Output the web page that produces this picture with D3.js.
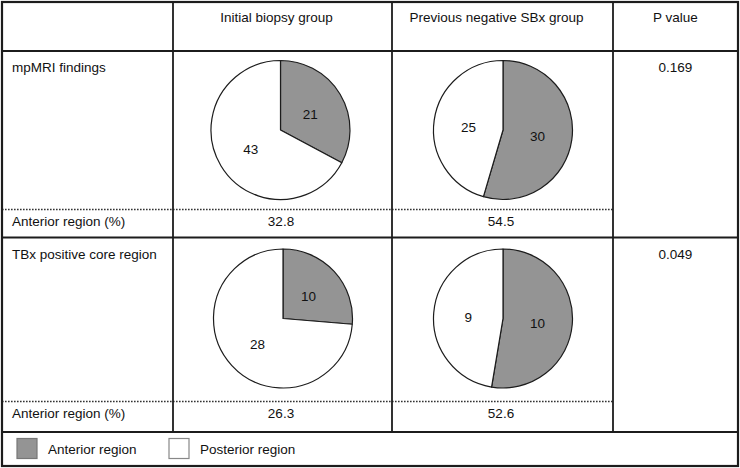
<!DOCTYPE html>
<html><head><meta charset="utf-8">
<script src="https://cdn.jsdelivr.net/npm/d3@7"></script>
<style>body{margin:0;background:#fff}svg{display:block}text{font-family:"Liberation Sans",Arial,sans-serif;font-size:13.5px;fill:#111}</style>
</head><body><svg id="c" width="740" height="468"></svg>
<script>
const groups = ["Initial biopsy group", "Previous negative SBx group"];
const headerLast = "P value";
const rowLabels = ["mpMRI findings", "TBx positive core region"];
const anteriorCounts = [[21, 30], [10, 10]];
const posteriorCounts = [[43, 25], [28, 9]];
const anteriorPct = [["32.8", "54.5"], ["26.3", "52.6"]];
const pValues = ["0.169", "0.049"];
const pctLabel = "Anterior region (%)";
const legendLabels = ["Anterior region", "Posterior region"];
const legendColors = ["#949494", "#ffffff"];

const svg = d3.select("#c");
const L = 2, R = 738, T = 2, B = 466;
const colX = [L, 173, 392, 613, R];
const headerB = 51;
const rowTop = [51, 237.5];
const dotY = [209.5, 401.5];
const rowBot = [237.5, 432];
const lineCol = "#1c1c1c";

// background
svg.append("rect").attr("x", 0).attr("y", 0).attr("width", 740).attr("height", 468).attr("fill", "#fff");

// header texts
const colCenter = i => (colX[i] + colX[i + 1]) / 2;
svg.append("text").attr("x", colCenter(1) - 6).attr("y", 22).attr("text-anchor", "middle").text(groups[0]);
svg.append("text").attr("x", colCenter(2) - 6).attr("y", 22).attr("text-anchor", "middle").text(groups[1]);
svg.append("text").attr("x", colCenter(3)).attr("y", 22).attr("text-anchor", "middle").text(headerLast);

const r = 69.5;
const pie = d3.pie().sort(null).value(d => d.v);
const arc = d3.arc().innerRadius(0).outerRadius(r);
const pieCenters = [[[280.5, 130], [503, 130]], [[283, 318.5], [503, 318.5]]];

rowLabels.forEach((lab, ri) => {
  const top = rowTop[ri];
  svg.append("text").attr("x", 12).attr("y", top + 21).text(lab);
  svg.append("text").attr("x", colCenter(3)).attr("y", top + 21).attr("text-anchor", "middle").text(pValues[ri]);
  svg.append("text").attr("x", 12).attr("y", dotY[ri] + 16).text(pctLabel);
  groups.forEach((g, gi) => {
    const data = [{k: "a", v: anteriorCounts[ri][gi]}, {k: "p", v: posteriorCounts[ri][gi]}];
    const [cx, cy] = pieCenters[ri][gi];
    const gg = svg.append("g").attr("transform", `translate(${cx},${cy})`);
    const arcs = pie(data);
    gg.selectAll("path").data(arcs).join("path")
      .attr("d", arc)
      .attr("fill", d => d.data.k === "a" ? legendColors[0] : legendColors[1])
      .attr("stroke", lineCol).attr("stroke-width", 1.2).attr("stroke-linejoin", "round");
    gg.selectAll("text").data(arcs).join("text")
      .attr("transform", d => { const c = arc.centroid(d); return `translate(${c[0]},${c[1] + 2})`; })
      .attr("text-anchor", "middle").attr("dominant-baseline", "central")
      .text(d => d.data.v);
    svg.append("text").attr("x", colCenter(gi + 1) - 1.5).attr("y", dotY[ri] + 16).attr("text-anchor", "middle").text(anteriorPct[ri][gi]);
  });
  // dotted separator
  svg.append("line").attr("x1", L).attr("x2", colX[3]).attr("y1", dotY[ri]).attr("y2", dotY[ri])
    .attr("stroke", "#333").attr("stroke-width", 1.6).attr("stroke-dasharray", "1.6,1.4");
});

// grid lines
const hl = (y, x1, x2) => svg.append("line").attr("x1", x1).attr("x2", x2).attr("y1", y).attr("y2", y).attr("stroke", lineCol).attr("stroke-width", 1.8);
const vl = (x, y1, y2) => svg.append("line").attr("x1", x).attr("x2", x).attr("y1", y1).attr("y2", y2).attr("stroke", lineCol).attr("stroke-width", 1.8);
hl(headerB, L, R);
hl(rowBot[0], L, R);
hl(rowBot[1], L, R);
[1, 2, 3].forEach(i => vl(colX[i], T, rowBot[1]));
svg.append("rect").attr("x", L).attr("y", T).attr("width", R - L).attr("height", B - T)
  .attr("fill", "none").attr("stroke", lineCol).attr("stroke-width", 2.2);

// legend
const legX = [17, 169];
legendLabels.forEach((lab, i) => {
  svg.append("rect").attr("x", legX[i]).attr("y", 438.5).attr("width", 20).attr("height", 20)
    .attr("fill", legendColors[i]).attr("stroke", i === 0 ? "#777" : "#888").attr("stroke-width", 1.2);
  svg.append("text").attr("x", legX[i] + 31).attr("y", 454).text(lab);
});
</script></body></html>
